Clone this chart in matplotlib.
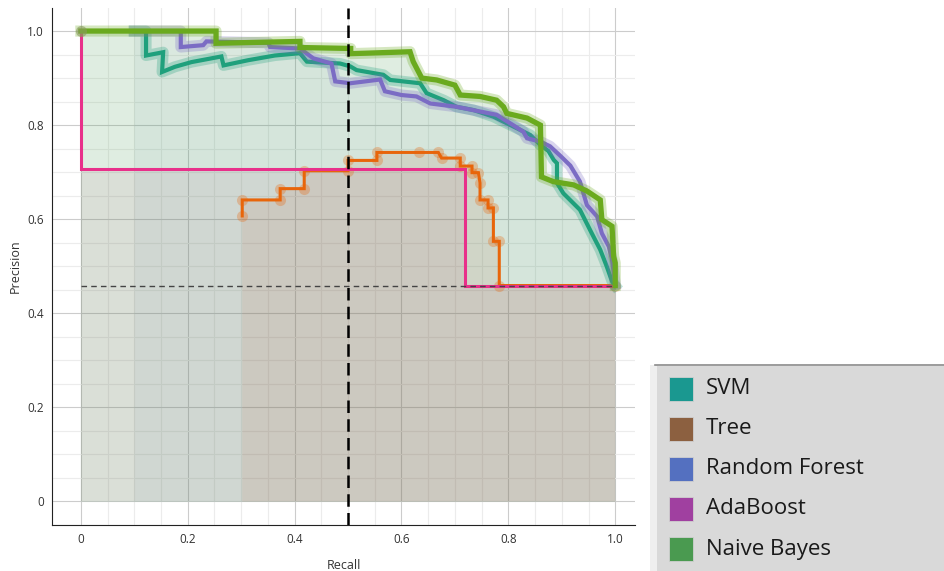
import numpy as np
import matplotlib
matplotlib.use('Agg')
import matplotlib.pyplot as plt
from matplotlib.patches import Rectangle
from matplotlib.lines import Line2D

plt.rcParams['font.family'] = ['Open Sans', 'DejaVu Sans']

# precision-recall points
svm_recall = [0.10, 0.122, 0.122, 0.154, 0.152, 0.176, 0.207, 0.263, 0.267, 0.313, 0.363, 0.41, 0.423,
              0.485, 0.504, 0.516, 0.566, 0.579, 0.635, 0.647, 0.679, 0.703, 0.735, 0.772, 0.797, 0.822,
              0.841, 0.86, 0.875, 0.885, 0.891, 0.891, 0.903, 0.934, 0.953, 0.972, 0.984, 0.994, 1.0]
svm_precision = [1.0, 1.0, 0.948, 0.955, 0.913, 0.924, 0.934, 0.946, 0.927, 0.938, 0.948, 0.953, 0.935,
                 0.931, 0.925, 0.917, 0.907, 0.896, 0.889, 0.868, 0.853, 0.839, 0.832, 0.818, 0.804, 0.790,
                 0.779, 0.758, 0.745, 0.726, 0.719, 0.677, 0.655, 0.620, 0.577, 0.535, 0.500, 0.468, 0.459]

tree_recall = [0.302, 0.302, 0.373, 0.373, 0.418, 0.418, 0.50, 0.50, 0.554, 0.554, 0.632, 0.669, 0.675,
               0.710, 0.710, 0.732, 0.732, 0.744, 0.747, 0.747, 0.762, 0.762, 0.772, 0.772, 0.783, 0.783, 1.0]
tree_precision = [0.607, 0.641, 0.641, 0.665, 0.665, 0.703, 0.703, 0.725, 0.725, 0.742, 0.742, 0.742, 0.730,
                  0.730, 0.713, 0.713, 0.699, 0.699, 0.677, 0.641, 0.641, 0.624, 0.624, 0.553, 0.553, 0.459, 0.459]

rf_recall = [0.10, 0.187, 0.187, 0.229, 0.235, 0.351, 0.354, 0.41, 0.423, 0.435, 0.469, 0.476, 0.504, 0.56,
             0.569, 0.60, 0.628, 0.654, 0.703, 0.747, 0.778, 0.809, 0.828, 0.835, 0.86, 0.878, 0.897, 0.916,
             0.934, 0.947, 0.966, 0.975, 0.988, 0.994, 1.0]
rf_precision = [1.0, 1.0, 0.966, 0.970, 0.978, 0.975, 0.966, 0.963, 0.952, 0.942, 0.931, 0.893, 0.889, 0.897,
                0.872, 0.864, 0.861, 0.846, 0.839, 0.829, 0.822, 0.800, 0.786, 0.772, 0.765, 0.755, 0.735, 0.714,
                0.680, 0.630, 0.606, 0.570, 0.542, 0.514, 0.462]

ada_recall = [0.0, 0.0, 0.719, 0.719, 1.0]
ada_precision = [1.0, 0.707, 0.707, 0.459, 0.459]

nb_recall = [0.0, 0.253, 0.253, 0.41, 0.41, 0.505, 0.505, 0.535, 0.616, 0.622, 0.638, 0.666, 0.70, 0.71,
             0.747, 0.778, 0.791, 0.797, 0.835, 0.86, 0.862, 0.884, 0.922, 0.947, 0.972, 0.975, 0.994, 0.997,
             1.0, 1.0]
nb_precision = [1.0, 1.0, 0.974, 0.978, 0.965, 0.963, 0.952, 0.953, 0.956, 0.935, 0.900, 0.896, 0.885, 0.864,
                0.861, 0.853, 0.839, 0.825, 0.815, 0.800, 0.690, 0.680, 0.673, 0.660, 0.641, 0.599, 0.585, 0.521,
                0.507, 0.459]

prevalence = 0.459
threshold_recall = 0.5

labels = ['SVM', 'Tree', 'Random Forest', 'AdaBoost', 'Naive Bayes']
legend_colors = ['#1a9890', '#8c6040', '#5470c0', '#a040a0', '#4a9a50']
line_colors = ['#1fa07c', '#e8650a', '#7b6cc4', '#e8308a', '#6aaa1e']
fill_colors = ['#1a9890', '#c85a30', '#7060b0', '#c04080', '#469a50']
fill_alpha = [0.03, 0.12, 0.035, 0.09, 0.17]
curves = [(svm_recall, svm_precision), (tree_recall, tree_precision), (rf_recall, rf_precision),
          (ada_recall, ada_precision), (nb_recall, nb_precision)]
line_width = [3.0, 2.2, 3.0, 2.2, 3.8]
zorders = [4, 3, 5, 6, 7]

fig = plt.figure(figsize=(9.44, 5.71), dpi=100)
ax = fig.add_axes([52 / 944, 1 - 525 / 571, (635 - 52) / 944, (525 - 8) / 571])

for (r, p), fc, a in zip(curves, fill_colors, fill_alpha):
    ax.fill(np.r_[r, r[-1], r[0]], np.r_[p, 0, 0], color=fc, alpha=a, lw=0, zorder=2)

for i, (r, p) in enumerate(curves):
    c = line_colors[i]
    if labels[i] == 'Tree':
        ax.plot(r, p, 'o', color=c, ms=8, alpha=0.3, mec='none', zorder=zorders[i])
    elif labels[i] != 'AdaBoost':
        ax.plot(r, p, color=c, lw=8, alpha=0.28, solid_joinstyle='round', zorder=zorders[i])
    ax.plot(r, p, color=c, lw=line_width[i], solid_joinstyle='miter', zorder=zorders[i])
ax.plot([0], [1.0], 'o', color='#8a9a60', ms=8, alpha=0.6, mec='none', zorder=8)

ax.plot([0, 1], [prevalence, prevalence], color='#444444', lw=1, ls=(0, (4, 3)), zorder=8)
ax.axvline(threshold_recall, color='black', lw=1.8, ls=(0, (5, 2.5)), zorder=9)

ax.set_xlim(-0.054, 1.037)
ax.set_ylim(-0.049, 1.049)
ax.set_xticks(np.arange(0, 1.01, 0.2))
ax.set_yticks(np.arange(0, 1.01, 0.2))
ax.set_xticks(np.arange(0, 1.04, 0.05), minor=True)
ax.set_yticks(np.arange(-0.05, 1.05, 0.05), minor=True)
ax.set_xticklabels(['0', '0.2', '0.4', '0.6', '0.8', '1.0'])
ax.set_yticklabels(['0', '0.2', '0.4', '0.6', '0.8', '1.0'])
ax.grid(which='major', color='#cccccc', lw=0.8, zorder=0)
ax.grid(which='minor', color='#ececec', lw=0.8, zorder=0)
ax.set_axisbelow(True)
ax.tick_params(which='both', length=0, labelsize=8.5, labelcolor='#333333', pad=6)
for side in ['top', 'right']:
    ax.spines[side].set_visible(False)
for side in ['left', 'bottom']:
    ax.spines[side].set_color('#222222')
ax.set_xlabel('Recall', fontsize=9, color='#333333', labelpad=9)
ax.set_ylabel('Precision', fontsize=9, color='#333333', labelpad=4)

# legend panel in the lower right corner
W, H = 944, 571
fig.add_artist(Rectangle((650 / W, 0), 8 / W, 206 / H, transform=fig.transFigure, color='#efefef', lw=0))
fig.add_artist(Rectangle((657 / W, 0), (W - 657) / W, 205 / H, transform=fig.transFigure,
                         facecolor='#d9d9d9', lw=0))
fig.add_artist(Line2D([655 / W, 1], [1 - 365 / H, 1 - 365 / H], transform=fig.transFigure,
                      color='#8a8a8a', lw=1.2))
for i, (lab, c) in enumerate(zip(labels, legend_colors)):
    yc = 389 + 40 * i
    fig.add_artist(Rectangle((669 / W, 1 - (yc + 12) / H), 24 / W, 24 / H, transform=fig.transFigure,
                             facecolor=c, edgecolor='#cfcfcf', lw=0.6))
    fig.text(706 / W, 1 - yc / H, lab, fontsize=16, color='#1a1a1a', va='center', ha='left')

fig.savefig('out.png', dpi=100)
